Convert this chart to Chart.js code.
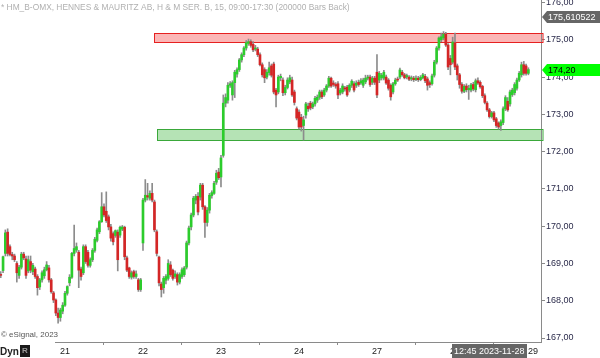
<!DOCTYPE html>
<html>
<head>
<meta charset="utf-8">
<script src="https://cdn.jsdelivr.net/npm/chart.js@4.4.0/dist/chart.umd.min.js"></script>
<style>
  html, body { margin: 0; padding: 0; background: #fff; }
</style>
</head>
<body>
<canvas id="chart" width="600" height="358"></canvas>
<script>
// 15 min bars, 20 Nov (partial) .. 28 Nov 2023
const opens = [
  168.70,168.81,169.27,169.84,169.45,169.24,169.20,169.00,168.68,168.90,169.25,169.12,168.80,169.05,168.78,168.85,168.65,168.37,168.56,168.67,168.83,168.88,168.56,168.21,168.02,167.67,167.55,167.72,
  167.88,168.20,168.48,168.63,169.27,169.36,169.30,168.85,168.75,169.45,169.30,168.95,169.10,169.35,169.62,169.85,170.12,170.52,170.40,170.25,169.98,169.80,169.75,169.84,169.76,169.92,169.97,169.15,168.88,168.63,168.78,168.65,168.56,168.30,
  169.55,170.70,170.82,170.75,170.88,170.65,169.85,169.17,168.45,168.35,168.55,168.60,168.96,168.82,168.65,168.70,168.50,168.65,168.70,168.90,169.55,169.98,170.30,170.70,170.80,170.78,171.10,170.52,170.10,170.43,170.82,170.88,171.18,171.45,
  171.32,171.90,173.30,173.38,173.78,173.52,173.85,174.08,174.20,174.46,174.60,174.78,174.90,174.95,174.88,174.75,174.75,174.60,174.33,174.20,174.00,174.12,174.30,174.35,173.65,173.60,173.98,173.92,173.58,173.72,173.87,173.92,173.60,173.15,
  173.06,172.92,172.70,172.98,173.22,173.30,173.20,173.28,173.38,173.46,173.60,173.52,173.65,173.76,173.97,173.84,173.80,173.82,173.57,173.60,173.70,173.73,173.65,173.78,173.82,173.78,173.86,173.84,173.78,173.87,173.97,174.00,173.86,173.97,
  174.13,173.92,173.98,173.97,174.00,173.92,173.78,173.60,173.82,173.94,174.00,174.13,174.06,174.00,174.00,173.95,173.97,173.93,173.97,173.93,173.98,174.02,173.95,173.85,173.82,174.05,174.40,174.78,175.00,175.05,175.15,174.86,174.50,174.40,
  174.92,174.30,174.06,173.80,173.62,173.76,173.66,173.65,173.80,173.66,173.90,173.86,173.75,173.50,173.30,173.12,172.94,173.04,172.88,172.77,172.70,172.78,173.15,173.35,173.28,173.53,173.58,173.70,173.92,174.06,174.33,174.30,174.10
];
const highs = [
  168.78,169.20,169.90,169.93,169.50,169.30,169.25,169.05,168.95,169.30,169.30,169.20,169.20,169.20,169.00,168.90,168.70,168.60,168.80,168.90,169.05,168.95,168.60,168.25,168.05,167.80,167.80,167.95,
  168.25,168.40,168.70,169.30,170.03,169.55,169.35,168.90,169.50,169.50,169.35,169.15,169.40,169.70,169.95,170.15,170.90,170.60,170.92,170.30,170.05,169.85,169.90,169.90,170.00,170.02,170.00,169.20,168.90,168.80,168.82,168.80,168.60,168.60,
  170.75,171.25,171.15,170.95,171.15,170.70,169.90,169.20,168.50,168.65,168.70,169.10,169.05,168.85,168.80,168.75,168.75,168.88,168.92,169.60,170.00,170.35,170.80,170.85,170.90,171.15,171.15,170.55,170.50,170.88,170.95,171.20,171.50,171.55,
  171.90,173.52,173.55,173.85,173.88,173.90,174.18,174.25,174.50,174.65,174.82,174.98,175.02,175.00,174.95,174.85,174.80,174.65,174.38,174.25,174.20,174.40,174.35,174.40,173.70,174.05,174.08,173.98,173.78,173.98,174.05,174.00,173.65,173.20,
  173.12,173.00,172.95,173.32,173.30,173.35,173.33,173.48,173.52,173.65,173.65,173.70,173.80,174.02,174.00,173.90,173.85,173.88,173.70,173.82,173.75,173.78,173.82,173.93,173.88,173.90,173.92,173.96,173.97,174.05,174.05,174.05,174.02,174.02,
  174.60,174.15,174.10,174.18,174.05,173.96,173.82,173.86,173.97,174.00,174.24,174.18,174.10,174.08,174.04,174.03,174.02,174.03,174.02,174.04,174.10,174.07,174.00,173.90,174.08,174.45,174.82,175.08,175.18,175.22,175.20,174.90,174.58,175.07,
  175.18,174.35,174.10,173.85,173.80,173.82,173.78,173.83,173.86,173.95,173.98,173.90,173.78,173.55,173.34,173.16,173.08,173.08,172.92,172.80,172.85,173.20,173.50,173.45,173.65,173.70,173.85,173.97,174.15,174.40,174.42,174.35,174.25
];
const lows = [
  168.62,168.75,169.20,169.20,169.20,169.10,169.05,168.50,168.60,168.85,169.10,168.60,168.75,168.75,168.70,168.60,168.15,168.30,168.50,168.60,168.80,168.50,168.20,167.95,167.60,167.40,167.45,167.65,
  167.85,168.15,168.40,168.60,169.20,169.30,168.35,168.55,168.70,169.00,168.90,168.90,169.05,169.30,169.58,169.80,170.10,170.25,170.10,169.90,169.60,169.50,169.70,168.80,169.70,169.88,169.10,168.78,168.60,168.58,168.60,168.60,168.25,168.25,
  169.35,170.65,170.70,170.70,170.65,169.85,169.20,168.40,168.10,168.20,168.45,168.55,168.65,168.55,168.60,168.42,168.45,168.60,168.65,168.85,169.50,169.90,170.25,170.60,170.30,170.70,170.45,169.70,170.00,170.35,170.75,170.85,171.12,171.25,
  171.05,171.85,173.20,173.30,173.72,173.38,173.45,174.00,174.15,174.40,174.55,174.72,174.85,174.80,174.68,174.70,174.55,174.30,174.00,173.85,173.95,174.05,174.00,173.55,173.20,173.55,173.90,173.50,173.52,173.68,173.82,173.48,173.25,172.85,
  172.60,172.55,172.31,172.90,173.08,173.12,173.15,173.22,173.32,173.40,173.42,173.48,173.60,173.72,173.72,173.75,173.70,173.42,173.52,173.55,173.62,173.48,173.60,173.72,173.60,173.72,173.75,173.80,173.72,173.82,173.92,173.75,173.80,173.80,
  173.45,173.85,173.92,173.92,173.80,173.65,173.38,173.55,173.78,173.88,173.95,174.02,173.95,173.95,173.90,173.90,173.88,173.90,173.88,173.90,173.95,173.85,173.65,173.72,173.78,174.00,174.35,174.72,174.95,175.00,174.82,174.20,174.06,174.35,
  174.20,173.92,173.70,173.57,173.58,173.60,173.40,173.60,173.63,173.60,173.80,173.70,173.45,173.28,173.08,172.90,172.90,172.80,172.65,172.60,172.57,172.72,173.10,173.08,173.22,173.48,173.52,173.65,173.88,174.00,174.05,174.05,174.06
];
const closes = [
  168.68,169.18,169.82,169.27,169.24,169.20,169.10,168.75,168.90,169.25,169.15,168.68,169.10,168.82,168.95,168.65,168.35,168.56,168.75,168.83,168.96,168.56,168.24,168.02,167.67,167.55,167.75,167.88,
  168.20,168.38,168.63,169.27,169.40,169.45,168.82,168.65,169.45,169.05,168.95,169.10,169.35,169.65,169.90,170.12,170.52,170.30,170.15,169.98,169.68,169.58,169.88,169.10,169.97,169.98,169.18,168.82,168.65,168.75,168.65,168.72,168.30,168.56,
  170.70,170.83,170.78,170.88,170.70,169.90,169.27,168.48,168.30,168.60,168.65,169.00,168.70,168.60,168.72,168.50,168.70,168.83,168.88,169.55,169.95,170.30,170.75,170.80,170.38,171.10,170.52,170.10,170.43,170.83,170.90,171.15,171.42,171.30,
  171.83,173.30,173.45,173.78,173.82,173.85,174.13,174.20,174.46,174.60,174.78,174.92,174.95,174.85,174.73,174.78,174.60,174.33,174.06,173.98,174.13,174.25,174.05,173.60,173.52,174.00,174.02,173.58,173.72,173.92,173.98,173.52,173.32,172.90,
  172.66,172.66,172.85,173.28,173.15,173.17,173.28,173.43,173.46,173.60,173.47,173.65,173.76,173.97,173.76,173.80,173.76,173.52,173.65,173.76,173.68,173.52,173.78,173.89,173.65,173.84,173.80,173.90,173.92,173.97,174.00,173.80,173.97,173.86,
  173.52,174.10,174.05,174.13,173.84,173.70,173.47,173.82,173.92,173.92,174.19,174.06,173.98,174.04,173.94,173.98,173.93,173.97,173.93,173.99,174.06,173.90,173.78,173.80,174.03,174.40,174.78,175.05,175.08,175.15,174.86,174.27,174.33,174.94,
  174.27,174.06,173.80,173.62,173.75,173.66,173.70,173.79,173.68,173.90,173.84,173.74,173.50,173.32,173.12,172.94,173.04,172.85,172.70,172.66,172.80,173.15,173.45,173.12,173.60,173.65,173.80,173.92,174.10,174.33,174.10,174.10,174.20
];

// first bar index of each session and its label
const dayStarts = [28, 62, 96, 130, 164, 198, 232];
const dayLabels = ['21', '22', '23', '24', '27', '28', '29'];
const priceTicks = [167, 168, 169, 170, 171, 172, 173, 174, 175, 176];

// drawn zones: [from bar, low price, high price]
const resistanceZone = [66.8, 174.94, 175.18];
const supportZone = [68.1, 172.31, 172.61];
const markerPrice = 175.610522;
const cursorLabel = '12:45 2023-11-28';
const titleText = '* HM_B-OMX, HENNES & MAURITZ AB, H & M SER. B, 15, 09:00-17:30 (200000 Bars Back)';

const FONT = 'Arial, "Liberation Sans", sans-serif';
const upColor = '#2ccc2c';
const downColor = '#d42626';

function fmt(v) {
  return v.toFixed(2).replace('.', ',');
}

const wickData = lows.map((l, i) => ({ x: i, y: [l, highs[i]] }));
const bodyData = opens.map((o, i) => ({ x: i, y: [o, closes[i]] }));
const bodyColors = opens.map((o, i) => closes[i] >= o ? upColor : downColor);

const zonesPlugin = {
  id: 'zones',
  beforeDatasetsDraw(chart) {
    const ctx = chart.ctx;
    const xs = chart.scales.x, ys = chart.scales.y;
    const right = chart.chartArea.right;
    function box(zone, fill, stroke) {
      const x0 = Math.round(xs.getPixelForValue(zone[0])) + 0.5;
      const y0 = Math.round(ys.getPixelForValue(zone[2])) + 0.5;
      const y1 = Math.round(ys.getPixelForValue(zone[1])) + 0.5;
      ctx.save();
      ctx.fillStyle = fill;
      ctx.fillRect(x0, y0, right - x0, y1 - y0);
      ctx.strokeStyle = stroke;
      ctx.lineWidth = 1;
      ctx.strokeRect(x0, y0, right - x0 + 2, y1 - y0);
      ctx.restore();
    }
    box(resistanceZone, '#fbb6b6', '#e62020');
    box(supportZone, '#b5e3b5', '#3aa83a');
  }
};

const labelsPlugin = {
  id: 'labels',
  afterDraw(chart) {
    const ctx = chart.ctx;
    const ys = chart.scales.y;
    const left = chart.chartArea.right + 1;
    ctx.save();

    // title
    ctx.font = '8.4px ' + FONT;
    ctx.fillStyle = '#b0b0b0';
    ctx.textBaseline = 'middle';
    ctx.textAlign = 'left';
    ctx.fillText(titleText, 1, 8);

    function tag(price, text, bg, fg) {
      const y = Math.round(ys.getPixelForValue(price));
      ctx.fillStyle = bg;
      ctx.beginPath();
      ctx.moveTo(left, y);
      ctx.lineTo(left + 5, y - 6);
      ctx.lineTo(600, y - 6);
      ctx.lineTo(600, y + 6);
      ctx.lineTo(left + 5, y + 6);
      ctx.closePath();
      ctx.fill();
      ctx.fillStyle = fg;
      ctx.font = '9px ' + FONT;
      ctx.fillText(text, left + 6, y + 0.5);
    }
    tag(markerPrice, String(markerPrice).replace('.', ','), '#666666', '#ffffff');
    tag(closes[closes.length - 1], fmt(closes[closes.length - 1]), '#00ff00', '#000000');

    // cursor time on the time axis
    ctx.fillStyle = '#666666';
    ctx.fillRect(452, 344, 75, 14);
    ctx.fillStyle = '#ffffff';
    ctx.font = '9px ' + FONT;
    ctx.fillText(cursorLabel, 454, 352);

    // copyright and the little Dyn control (axis line starts after it)
    ctx.fillStyle = '#ffffff';
    ctx.fillRect(0, 340, 55, 6);
    ctx.fillStyle = '#555';
    ctx.font = '8px ' + FONT;
    ctx.fillText('\u00a9 eSignal, 2023', 1, 335);
    ctx.fillStyle = '#222';
    ctx.font = 'bold 10px ' + FONT;
    ctx.fillText('Dyn', 0, 352);
    ctx.fillStyle = '#1a1a1a';
    ctx.fillRect(20, 345, 10, 12);
    ctx.fillStyle = '#9a9a9a';
    ctx.font = 'bold 8px ' + FONT;
    ctx.fillText('R', 22, 351);
    ctx.restore();
  }
};

new Chart(document.getElementById('chart').getContext('2d'), {
  type: 'bar',
  data: {
    datasets: [
      {
        label: 'wick',
        data: wickData,
        backgroundColor: '#8c8c8c',
        barThickness: 1,
        grouped: false,
        order: 2
      },
      {
        label: 'body',
        data: bodyData,
        backgroundColor: bodyColors,
        borderWidth: 0,
        barThickness: 2,
        minBarLength: 1,
        grouped: false,
        order: 1
      }
    ]
  },
  options: {
    responsive: false,
    animation: false,
    layout: { padding: 0 },
    plugins: {
      legend: { display: false },
      tooltip: { enabled: false }
    },
    scales: {
      x: {
        type: 'linear',
        min: -0.33,
        max: 235.5,
        offset: false,
        position: 'bottom',
        grid: { display: true, drawOnChartArea: false, tickLength: 3, color: '#8a8a8a' },
        border: { display: true, color: '#8a8a8a' },
        ticks: {
          autoSkip: false,
          maxRotation: 0,
          padding: 1,
          color: '#222',
          font: { family: FONT, size: 9 },
          callback: function(v) {
            const k = dayStarts.indexOf(v);
            return k >= 0 ? dayLabels[k] : '';
          }
        },
        afterBuildTicks: function(scale) {
          scale.ticks = dayStarts.map(v => ({ value: v }));
        },
        afterFit: function(scale) {
          scale.height = 16;
          scale.paddingLeft = 0;
          scale.paddingRight = 0;
        }
      },
      y: {
        type: 'linear',
        position: 'right',
        min: 166.893,
        max: 176.067,
        grid: { display: true, drawOnChartArea: false, tickLength: 4, color: '#8a8a8a' },
        border: { display: true, color: '#8a8a8a' },
        ticks: {
          padding: 1,
          color: '#2a2a4a',
          font: { family: FONT, size: 9 },
          callback: function(v) { return fmt(v); }
        },
        afterBuildTicks: function(scale) {
          scale.ticks = priceTicks.map(v => ({ value: v }));
        },
        afterFit: function(scale) {
          scale.width = 59;
          scale.paddingTop = 0;
          scale.paddingBottom = 0;
        }
      }
    }
  },
  plugins: [zonesPlugin, labelsPlugin]
});
</script>
</body>
</html>
